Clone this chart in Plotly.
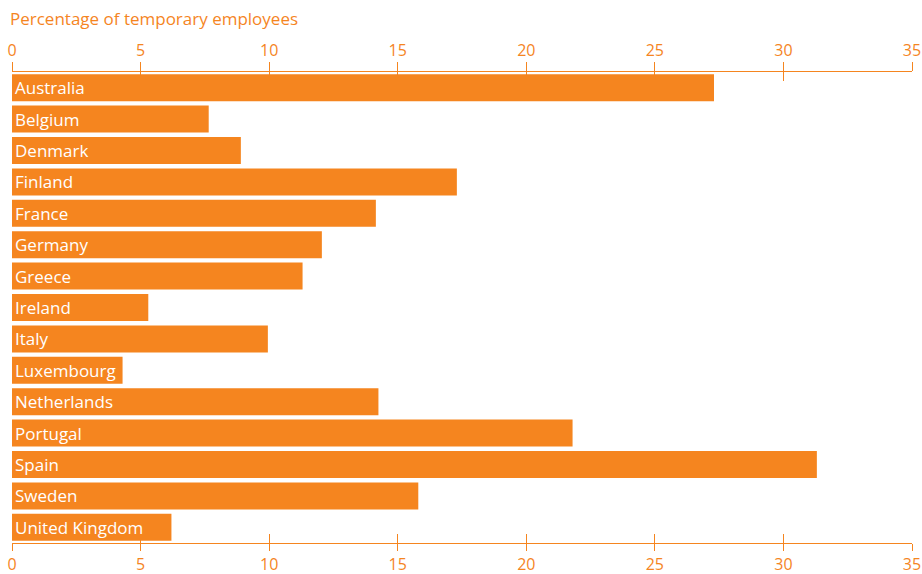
import plotly.graph_objects as go

countries = ["Australia", "Belgium", "Denmark", "Finland", "France", "Germany", "Greece",
             "Ireland", "Italy", "Luxembourg", "Netherlands", "Portugal", "Spain", "Sweden",
             "United Kingdom"]
values = [27.3, 7.65, 8.9, 17.3, 14.15, 12.05, 11.3, 5.3, 9.95, 4.3, 14.25, 21.8, 31.3, 15.8, 6.2]
tick_vals = [0, 5, 10, 15, 20, 25, 30, 35]
title_text = "Percentage of temporary employees"

ORANGE = "#F5851F"
FONT = "Open Sans"

fig = go.Figure()
fig.add_trace(go.Bar(x=values, y=countries, orientation="h", marker=dict(color=ORANGE, line=dict(width=0)),
                     hoverinfo="x+y"))
# empty helper traces so the extra axes are drawn
for ax in ["x2", "x3", "x4"]:
    fig.add_trace(go.Scatter(x=[], y=[], xaxis=ax, yaxis="y", mode="markers", hoverinfo="skip"))

for c in countries:
    fig.add_annotation(x=0, y=c, xref="x", yref="y", text=c, showarrow=False,
                       xanchor="left", yanchor="middle", xshift=1,
                       font=dict(family=FONT, size=17, color="white"))

fig.add_annotation(x=0, y=1, xref="paper", yref="paper", text=title_text, showarrow=False,
                   xanchor="left", yanchor="bottom", xshift=-4, yshift=40,
                   font=dict(family=FONT, size=17, color=ORANGE))

common = dict(range=[0, 35], tickvals=tick_vals, showgrid=False, zeroline=False,
              showline=True, linecolor=ORANGE, linewidth=1, tickcolor=ORANGE,
              tickwidth=1, fixedrange=True, automargin=False)

fig.update_layout(
    width=922, height=574,
    margin=dict(l=12, r=10, t=72, b=31, autoexpand=False),
    paper_bgcolor="white", plot_bgcolor="white",
    bargap=0.14, showlegend=False,
    font=dict(family=FONT, color=ORANGE),
    xaxis=dict(side="bottom", ticks="outside", showticklabels=True, ticklen=7,
               tickfont=dict(family=FONT, size=16, color=ORANGE), layer="below traces", **common),
    xaxis2=dict(overlaying="x", anchor="y", side="top", ticks="outside", showticklabels=True, ticklen=9,
                tickfont=dict(family=FONT, size=16, color=ORANGE), layer="below traces", **common),
    xaxis3=dict(overlaying="x", anchor="y", side="bottom", ticks="inside", showticklabels=False, ticklen=9,
                layer="below traces", **common),
    xaxis4=dict(overlaying="x", anchor="y", side="top", ticks="inside", showticklabels=False, ticklen=9,
                layer="below traces", **common),
    yaxis=dict(autorange="reversed", visible=False, fixedrange=True),
)

fig.write_html("out.html", config={"displayModeBar": False},
               post_script="document.body.style.margin='0';document.body.style.overflow='hidden';")
